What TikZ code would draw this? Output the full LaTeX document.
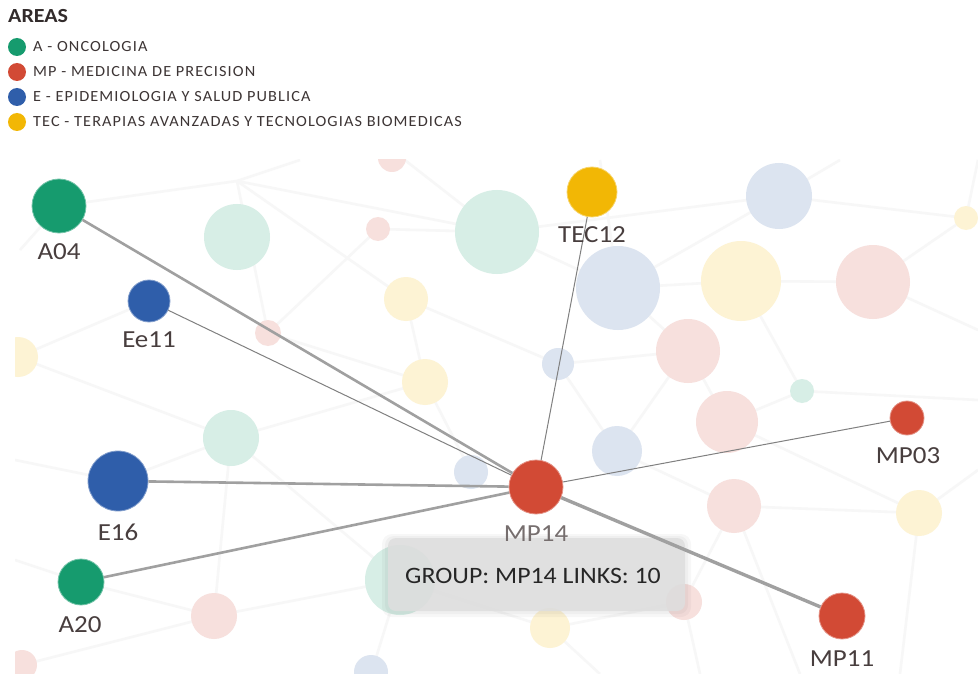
\documentclass[tikz,border=0pt]{standalone}
\usepackage{fontspec}
\setmainfont{Carlito}
\newfontfamily\widefont[FakeStretch=1.1]{Carlito}
\newfontfamily\legfont[LetterSpace=7,FakeStretch=1.05]{Carlito}
\definecolor{cA}{RGB}{22,155,110}
\definecolor{cMP}{RGB}{210,74,53}
\definecolor{cE}{RGB}{47,94,170}
\definecolor{cTEC}{RGB}{242,183,5}
\definecolor{labcol}{RGB}{72,62,62}
\definecolor{edgecol}{RGB}{160,160,160}
\definecolor{bgline}{RGB}{247,247,247}
\definecolor{tipcol}{RGB}{222,222,222}
\tikzset{
  hub/.style={circle, fill=#1, draw=#1!60!white, line width=0.8pt, inner sep=0pt},
  lab/.style={anchor=base, text=labcol, font=\widefont\fontsize{24.5}{24.5}\selectfont, inner sep=0pt},
  thickedge/.style={draw=edgecol, line width=2.6pt},
  thinedge/.style={draw=edgecol!80!black, line width=1pt},
  legdot/.style={circle, fill=#1, minimum size=18pt, inner sep=0pt},
  legtext/.style={anchor=base west, text=labcol!85!black, font=\legfont\fontsize{15.5}{15.5}\selectfont, inner sep=0pt},
}
\begin{document}
\begin{tikzpicture}[x=1pt,y=-1pt]
\useasboundingbox (0,0) rectangle (978,674);
\fill[white] (0,0) rectangle (978,674);
% legend
\node[anchor=base west, inner sep=0pt, text=labcol!70!black, font=\widefont\bfseries\fontsize{20}{20}\selectfont] (title) at (8,23) {AREAS};
\node[legdot=cA] (l1) at (17,47) {};
\node[legtext] (t1) at (33,52) {A - ONCOLOGIA};
\node[legdot=cMP] (l2) at (17,72) {};
\node[legtext] (t2) at (33,77) {MP - MEDICINA DE PRECISION};
\node[legdot=cE] (l3) at (17,97) {};
\node[legtext] (t3) at (33,102) {E - EPIDEMIOLOGIA Y SALUD PUBLICA};
\node[legdot=cTEC] (l4) at (17,122) {};
\node[legtext] (t4) at (33,127) {TEC - TERAPIAS AVANZADAS Y TECNOLOGIAS BIOMEDICAS};
% graph panel
\begin{scope}
\clip (15,160) rectangle (978,674);
\foreach \ax/\ay/\bx/\by in {
  237/181/497/232, 237/181/406/299, 59/206/237/181, 237/181/268/333, 497/232/618/288,
  497/232/779/196, 497/232/378/229, 618/288/741/281, 741/281/873/282, 779/196/966/218,
  873/282/966/218, 618/288/688/351, 688/351/727/422, 727/422/802/391, 741/281/802/391,
  406/299/425/382, 425/382/471/472, 231/438/425/382, 231/438/118/481, 231/438/214/616,
  231/438/400/580, 400/580/550/628, 550/628/684/602, 684/602/734/506, 734/506/919/513,
  919/513/978/470, 727/422/919/513, 617/451/734/506, 558/364/617/451, 558/364/688/351,
  18/357/149/301, 18/357/231/438, 268/333/425/382, 378/229/268/333, 392/150/497/232,
  618/288/779/196, 873/282/978/330, 802/391/978/400, 214/616/400/580, 22/665/214/616,
  371/674/400/580, 20/250/59/206, 15/460/118/481, 81/582/214/616, 550/628/600/674,
  734/506/800/674, 919/513/900/674, 687/351/617/451, 966/218/978/160, 600/160/618/288,
  300/160/237/181, 840/160/779/196, 406/299/558/364, 15/560/81/582, 700/674/684/602}
  {\draw[bgline, line width=2.6pt] (\ax,\ay) -- (\bx,\by);}
\foreach \c/\x/\y/\r in {
  cA/237/237/33, cMP/378/229/12, cA/497/232/42, cE/779/196/33, cTEC/966/218/12,
  cE/618/288/42, cTEC/741/281/40, cMP/873/282/37, cTEC/406/299/22, cMP/268/333/13,
  cTEC/18/357/20, cTEC/425/382/23, cMP/688/351/32, cE/558/364/16, cA/802/391/12,
  cMP/727/422/31, cA/231/438/28, cE/617/451/25, cE/471/472/17, cMP/734/506/27,
  cTEC/919/513/23, cA/400/580/35, cMP/214/616/23, cMP/684/602/18, cTEC/550/628/20,
  cE/371/672/17, cMP/22/665/15, cMP/392/158/14, cMP/310/148/10}
  {\fill[\c!17!white] (\x,\y) circle (\r);}
\end{scope}
% tooltip
\fill[black, opacity=0.03, rounded corners=10pt] (382,534) rectangle (691,617);
\fill[black, opacity=0.03, rounded corners=9pt] (385,536) rectangle (688,614);
\fill[tipcol, opacity=0.88, rounded corners=8pt] (388,538) rectangle (685,611);
\node[anchor=base, inner sep=0pt, text=black!85, font=\widefont\fontsize{23.5}{23.5}\selectfont] (tip) at (533,583) {GROUP: MP14 LINKS: 10};
% highlighted nodes
\node[hub=cMP, minimum size=54pt] (MP14) at (536,487) {};
\node[hub=cA, minimum size=54pt] (A04) at (59,206) {};
\node[hub=cE, minimum size=42pt] (Ee11) at (149,301) {};
\node[hub=cE, minimum size=60pt] (E16) at (118,481) {};
\node[hub=cA, minimum size=46pt] (A20) at (81,582) {};
\node[hub=cTEC, minimum size=50pt] (TEC12) at (592,192) {};
\node[hub=cMP, minimum size=34pt] (MP03) at (907,418) {};
\node[hub=cMP, minimum size=46pt] (MP11) at (842,616) {};
% edges
\draw[thickedge] (A04) -- (MP14);
\draw[thinedge] (Ee11) -- (MP14);
\draw[thickedge] (E16) -- (MP14);
\draw[thickedge] (A20) -- (MP14);
\draw[thinedge] (TEC12) -- (MP14);
\draw[thinedge] (MP03) -- (MP14);
\draw[thickedge, line width=3.4pt] (MP11) -- (MP14);
% labels
\node[lab] (lA04) at (59,259) {A04};
\node[lab] (lEe11) at (149,347) {Ee11};
\node[lab] (lE16) at (118,540) {E16};
\node[lab] (lA20) at (80,632) {A20};
\node[lab] (lTEC12) at (592,243) {TEC12};
\node[lab, text=labcol!75!white] (lMP14) at (536,541) {MP14};
\node[lab] (lMP03) at (908,463) {MP03};
\node[lab] (lMP11) at (842,666) {MP11};
\end{tikzpicture}
\end{document}
